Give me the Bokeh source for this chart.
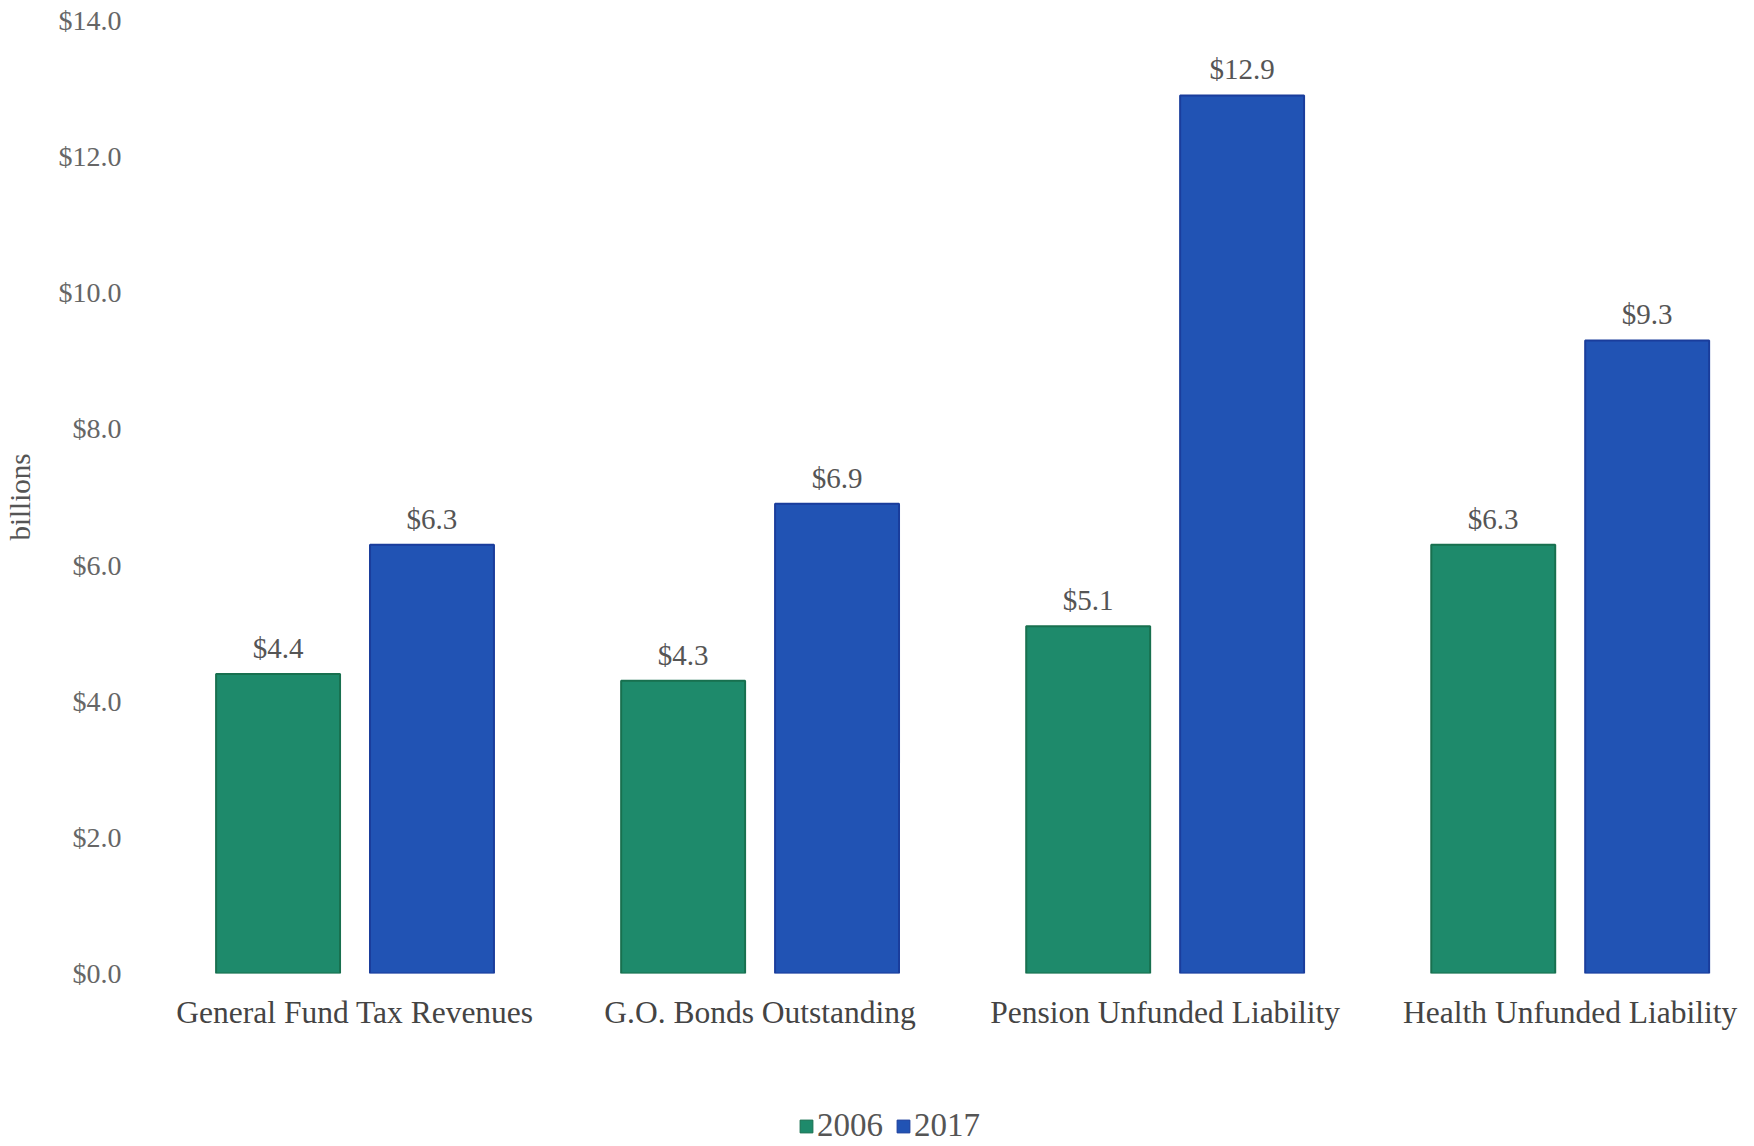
from bokeh.plotting import figure
from bokeh.layouts import column
from bokeh.models import ColumnDataSource, Range1d, FixedTicker, Legend, LegendItem
from bokeh.transform import dodge
from bokeh.embed import file_html
from bokeh.resources import INLINE

categories = ["General Fund Tax Revenues", "G.O. Bonds Outstanding",
              "Pension Unfunded Liability", "Health Unfunded Liability"]
years = ["2006", "2017"]
values_2006 = [4.4, 4.3, 5.1, 6.3]
values_2017 = [6.3, 6.9, 12.9, 9.3]
y_ticks = [0, 2, 4, 6, 8, 10, 12, 14]

FONT = "Liberation Serif"
GREEN = "#1e8a6b"
GREEN_EDGE = "#18704f"
BLUE = "#2153b4"
BLUE_EDGE = "#1a3d9c"

idx = list(range(len(categories)))
src = ColumnDataSource(dict(
    x=idx,
    v2006=values_2006,
    v2017=values_2017,
    l2006=["$%.1f" % v for v in values_2006],
    l2017=["$%.1f" % v for v in values_2017],
))

p = figure(width=1754, height=1076, output_backend="svg", toolbar_location=None,
           x_range=Range1d(-0.5, 3.455), y_range=Range1d(0, 14),
           min_border_left=152, min_border_right=0, min_border_top=20, min_border_bottom=103)
p.outline_line_color = None
p.xgrid.grid_line_color = None
p.ygrid.grid_line_color = None
p.background_fill_color = "white"
p.border_fill_color = "white"

off = 0.19
w = 0.306
p.vbar(x=dodge("x", -off), top="v2006", width=w, source=src,
       fill_color=GREEN, line_color=GREEN_EDGE, line_width=2)
p.vbar(x=dodge("x", off), top="v2017", width=w, source=src,
       fill_color=BLUE, line_color=BLUE_EDGE, line_width=2)

p.text(x=dodge("x", -off), y="v2006", text="l2006", source=src,
       text_align="center", text_baseline="bottom", y_offset=-10,
       text_font=FONT, text_font_size="29px", text_color="#555555")
p.text(x=dodge("x", off), y="v2017", text="l2017", source=src,
       text_align="center", text_baseline="bottom", y_offset=-10,
       text_font=FONT, text_font_size="29px", text_color="#555555")

# x axis
p.xaxis.ticker = FixedTicker(ticks=idx)
p.xaxis.major_label_overrides = {i: c for i, c in zip(idx, categories)}
p.xaxis.axis_line_color = None
p.xaxis.major_tick_line_color = None
p.xaxis.minor_tick_line_color = None
p.xaxis.major_label_standoff = 15
p.xaxis.major_label_text_font = FONT
p.xaxis.major_label_text_font_size = "31.5px"
p.xaxis.major_label_text_color = "#444444"

# y axis
p.yaxis.ticker = FixedTicker(ticks=y_ticks)
p.yaxis.major_label_overrides = {t: "$%.1f" % t for t in y_ticks}
p.yaxis.axis_line_color = None
p.yaxis.major_tick_line_color = None
p.yaxis.minor_tick_line_color = None
p.yaxis.major_label_standoff = 25
p.yaxis.major_label_text_font = FONT
p.yaxis.major_label_text_font_size = "28px"
p.yaxis.major_label_text_color = "#666666"
p.yaxis.axis_label = "billions"
p.yaxis.axis_label_text_font = FONT
p.yaxis.axis_label_text_font_style = "normal"
p.yaxis.axis_label_text_font_size = "29px"
p.yaxis.axis_label_text_color = "#555555"
p.yaxis.axis_label_standoff = 20

# legend strip (its plot frame is aligned with the main frame by the column)
lg = figure(width=1754, height=70, output_backend="svg", toolbar_location=None,
            x_range=Range1d(100, 101), y_range=Range1d(100, 101),
            x_axis_location=None, y_axis_location=None,
            min_border=0)
lg.outline_line_color = None
lg.xgrid.grid_line_color = None
lg.ygrid.grid_line_color = None
# proxy renderers (kept outside the strip's visible range) that only feed the legend swatches
g1 = lg.vbar(x="x", top="v2006", width=w, source=src,
             fill_color=GREEN, line_color=GREEN_EDGE, line_width=1)
g2 = lg.vbar(x="x", top="v2017", width=w, source=src,
             fill_color=BLUE, line_color=BLUE_EDGE, line_width=1)
legend = Legend(items=[LegendItem(label=years[0], renderers=[g1]),
                       LegendItem(label=years[1], renderers=[g2])],
                orientation="horizontal", location=(646, 2),
                glyph_width=16, glyph_height=16, label_standoff=3, spacing=12,
                padding=0, margin=0, border_line_color=None,
                background_fill_alpha=0,
                label_text_font=FONT, label_text_font_size="33px",
                label_text_color="#555555")
lg.add_layout(legend, "center")

layout = column(p, lg, spacing=0)
open("out.html", "w").write(file_html(layout, INLINE))
